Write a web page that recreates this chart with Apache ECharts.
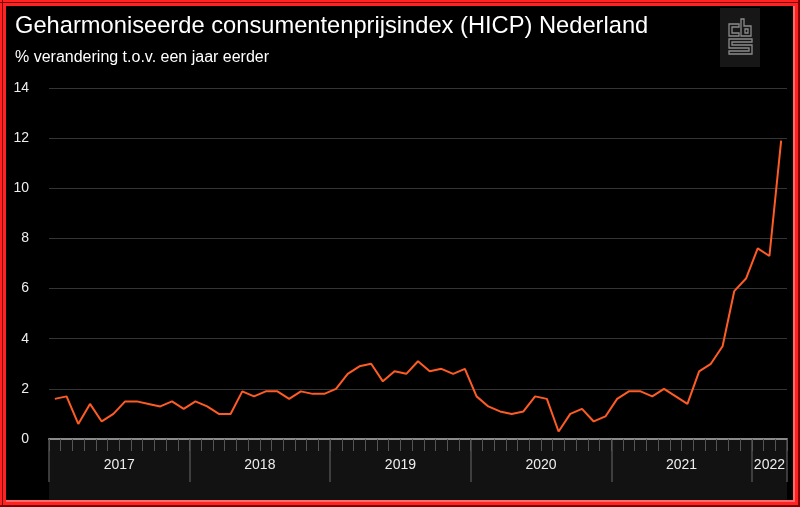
<!DOCTYPE html>
<html>
<head>
<meta charset="utf-8">
<script src="https://cdn.jsdelivr.net/npm/echarts@6/dist/echarts.min.js"></script>
<style>
html,body{margin:0;padding:0;background:#000;}
#chart{width:800px;height:507px;}
</style>
</head>
<body>
<div id="chart"></div>
<script>
// ---- data ----
const years = ['2017', '2018', '2019', '2020', '2021', '2022'];
const monthsPerYear = [12, 12, 12, 12, 12, 3];
const hicp = [
  1.6, 1.7, 0.6, 1.4, 0.7, 1.0, 1.5, 1.5, 1.4, 1.3, 1.5, 1.2,   // 2017
  1.5, 1.3, 1.0, 1.0, 1.9, 1.7, 1.9, 1.9, 1.6, 1.9, 1.8, 1.8,   // 2018
  2.0, 2.6, 2.9, 3.0, 2.3, 2.7, 2.6, 3.1, 2.7, 2.8, 2.6, 2.8,   // 2019
  1.7, 1.3, 1.1, 1.0, 1.1, 1.7, 1.6, 0.3, 1.0, 1.2, 0.7, 0.9,   // 2020
  1.6, 1.9, 1.9, 1.7, 2.0, 1.7, 1.4, 2.7, 3.0, 3.7, 5.9, 6.4,   // 2021
  7.6, 7.3, 11.9                                                // 2022
];
const yTicks = [0, 2, 4, 6, 8, 10, 12, 14];
const titleText = 'Geharmoniseerde consumentenprijsindex (HICP) Nederland';
const subtitleText = '% verandering t.o.v. een jaar eerder';

// ---- derived categories / year positions ----
const months = [];
const yearStarts = [];
const yearCenters = [];
let pos = 0;
years.forEach((y, i) => {
  yearStarts.push(pos);
  yearCenters.push(pos + monthsPerYear[i] / 2);
  for (let m = 1; m <= monthsPerYear[i]; m++) months.push(y + '-' + String(m).padStart(2, '0'));
  pos += monthsPerYear[i];
});
const totalMonths = pos;
const yearTickValues = yearStarts.concat([totalMonths]);

const chart = echarts.init(document.getElementById('chart'), null, {renderer: 'canvas'});

const FONT = '"Liberation Sans", Arial, sans-serif';
const gridL = 49, gridR = 13, gridT = 88, gridB = 68;

// logo outlines (decoration)
const logoStroke = {stroke: '#8c8c8c', lineWidth: 1.3, fill: null};

chart.setOption({
  backgroundColor: '#000',
  animation: false,
  title: [
    {text: titleText, left: 10, top: 9, padding: 5,
     textStyle: {color: '#ffffff', fontFamily: FONT, fontSize: 23.7, fontWeight: 'normal'}},
    {text: subtitleText, left: 10, top: 45, padding: 5,
     textStyle: {color: '#ffffff', fontFamily: FONT, fontSize: 16, fontWeight: 'normal'}}
  ],
  grid: {left: gridL, right: gridR, top: gridT, bottom: gridB, containLabel: false},
  xAxis: [
    {
      type: 'category', data: months, boundaryGap: true, position: 'bottom', z: 5,
      axisLine: {show: true, lineStyle: {color: '#8a8a8a', width: 2}},
      axisTick: {show: true, interval: 0, length: 12, lineStyle: {color: '#555555', width: 1}},
      axisLabel: {show: false},
      splitLine: {show: false}
    },
    {
      type: 'value', min: 0, max: totalMonths, position: 'bottom', z: 4,
      axisLine: {show: false},
      axisTick: {show: true, customValues: yearTickValues, length: 43, lineStyle: {color: '#4e4e4e', width: 1.5}},
      axisLabel: {
        show: true, customValues: yearCenters, margin: 19,
        color: '#eeeeee', fontFamily: FONT, fontSize: 14,
        formatter: function (v) {
          const i = yearCenters.findIndex(c => Math.abs(c - v) < 1e-6);
          return i >= 0 ? years[i] : '';
        }
      },
      splitLine: {show: false}
    }
  ],
  yAxis: {
    type: 'value', min: yTicks[0], max: yTicks[yTicks.length - 1], interval: 2,
    axisLine: {show: false}, axisTick: {show: false},
    axisLabel: {color: '#eeeeee', fontFamily: FONT, fontSize: 14, margin: 20},
    splitLine: {show: true, lineStyle: {color: '#353535', width: 1}}
  },
  series: [{
    type: 'line', xAxisIndex: 0, data: hicp, showSymbol: false, symbol: 'none',
    lineStyle: {color: '#ff5b24', width: 2}, z: 10
  }],
  graphic: [
    // dark band behind x axis
    {type: 'rect', z: -10, silent: true,
     shape: {x: gridL, y: 507 - gridB, width: 800 - gridL - gridR, height: gridB - 7},
     style: {fill: '#121212'}},
    // logo
    {type: 'rect', silent: true, shape: {x: 720, y: 8, width: 40, height: 59}, style: {fill: '#171717'}},
    {type: 'polygon', silent: true, shape: {points: [[729,24],[739,24],[739,27],[732,27],[732,33],[739,33],[739,36],[729,36]]}, style: logoStroke},
    {type: 'polygon', silent: true, shape: {points: [[741,19],[744,19],[744,26],[751,26],[751,36],[741,36]]}, style: logoStroke},
    {type: 'polygon', silent: true, shape: {points: [[745,29],[748,29],[748,33],[745,33]]}, style: logoStroke},
    {type: 'polygon', silent: true, shape: {points: [[729,39],[752,39],[752,42],[732,42],[732,45],[752,45],[752,54],[729,54],[729,51],[749,51],[749,48],[729,48]]}, style: logoStroke},
    // red frame
    {type: 'rect', silent: true, shape: {x: 0, y: 0, width: 800, height: 6}, style: {fill: '#ff2222'}},
    {type: 'rect', silent: true, shape: {x: 0, y: 0, width: 6, height: 507}, style: {fill: '#ff2222'}},
    {type: 'rect', silent: true, shape: {x: 0, y: 500, width: 800, height: 7}, style: {fill: '#ff2222'}},
    {type: 'rect', silent: true, shape: {x: 793, y: 0, width: 7, height: 507}, style: {fill: '#ff2222'}},
    {type: 'rect', silent: true, shape: {x: 0, y: 2, width: 798, height: 1}, style: {fill: '#7a0000'}},
    {type: 'rect', silent: true, shape: {x: 2, y: 0, width: 1, height: 505}, style: {fill: '#7a0000'}},
    {type: 'rect', silent: true, shape: {x: 6, y: 500, width: 789, height: 2}, style: {fill: '#ff6a6a'}},
    {type: 'rect', silent: true, shape: {x: 793, y: 6, width: 2, height: 496}, style: {fill: '#ff6a6a'}},
    {type: 'rect', silent: true, shape: {x: 0, y: 505, width: 800, height: 2}, style: {fill: '#800000'}},
    {type: 'rect', silent: true, shape: {x: 798, y: 0, width: 2, height: 507}, style: {fill: '#800000'}}
  ]
});
</script>
</body>
</html>
